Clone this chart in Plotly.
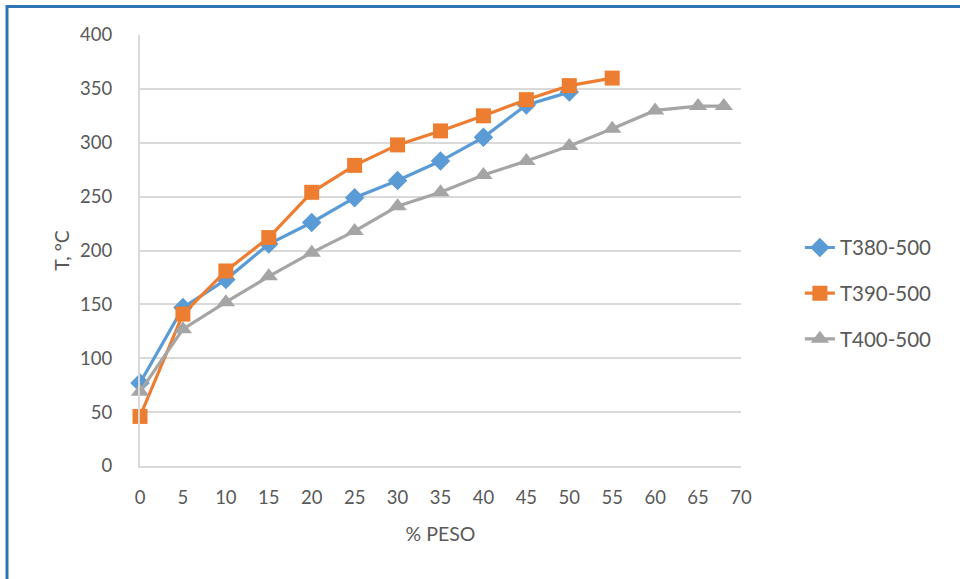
import plotly.graph_objects as go

# ---- data ----
x_380 = [0, 5, 10, 15, 20, 25, 30, 35, 40, 45, 50]
t_380 = [77, 147, 173, 206, 226, 249, 265, 283, 305, 335, 347]

x_390 = [0, 5, 10, 15, 20, 25, 30, 35, 40, 45, 50, 55]
t_390 = [46, 141, 181, 212, 254, 279, 298, 311, 325, 340, 353, 360]

x_400 = [0, 5, 10, 15, 20, 25, 30, 35, 40, 45, 50, 55, 60, 65, 68]
t_400 = [69, 127, 152, 176, 198, 218, 241, 254, 270, 283, 297, 313, 330, 334, 334]

names = ["T380-500", "T390-500", "T400-500"]
x_ticks = list(range(0, 71, 5))
y_ticks = list(range(0, 401, 50))

FONT = "Lato, 'Open Sans', sans-serif"
TXT = "#595959"
GRID = "#d9d9d9"

fig = go.Figure()
series = [
    (x_380, t_380, names[0], "#5B9BD5", "diamond", 15),
    (x_390, t_390, names[1], "#ED7D31", "square", 15),
    (x_400, t_400, names[2], "#A5A5A5", "triangle-up", 16),
]
for i, (xs, ys, nm, col, sym, sz) in enumerate(series):
    fig.add_trace(go.Scatter(
        x=xs, y=ys, name=nm, mode="lines+markers",
        line=dict(color=col, width=3.2),
        marker=dict(symbol=sym, size=sz, color=col),
        legendgroup=f"g{i}", cliponaxis=False,
    ))

fig.update_layout(
    width=960, height=579,
    margin=dict(l=140, r=219, t=35, b=113),
    paper_bgcolor="white", plot_bgcolor="white",
    font=dict(family=FONT, size=18, color=TXT),
    showlegend=True,
    legend=dict(x=1.098, y=0.401, xanchor="left", yanchor="middle",
                font=dict(size=20.5, color=TXT), tracegroupgap=16,
                bgcolor="rgba(0,0,0,0)"),
    shapes=[dict(type="rect", xref="paper", yref="paper",
                 x0=-0.2213, x1=1.45, y0=-0.35, y1=1.0661,
                 line=dict(color="#2E75B6", width=3), fillcolor="rgba(0,0,0,0)")],
)
fig.update_xaxes(
    range=[0, 70], tickvals=x_ticks, showgrid=False, zeroline=False,
    showline=True, linecolor=GRID, linewidth=2,
    ticks="outside", ticklen=14, tickcolor="rgba(0,0,0,0)",
    tickfont=dict(size=18.5, color=TXT),
    title=dict(text="% PESO", font=dict(size=19.5, color=TXT), standoff=20),
)
fig.update_yaxes(
    range=[0, 400], tickvals=y_ticks, showgrid=True, gridcolor=GRID, gridwidth=2,
    zeroline=False, showline=True, linecolor=GRID, linewidth=2,
    ticks="outside", ticklen=22, tickcolor="rgba(0,0,0,0)",
    tickfont=dict(size=18.5, color=TXT),
    title=dict(text="T, °C", font=dict(size=19.5, color=TXT), standoff=5),
)

fig.write_html("out.html", config={"displayModeBar": False},
               post_script="document.body.style.margin='0px';")
